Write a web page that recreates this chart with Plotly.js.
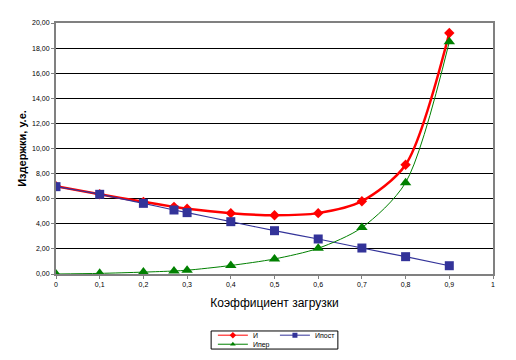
<!DOCTYPE html>
<html><head><meta charset="utf-8">
<script src="https://cdn.plot.ly/plotly-3.0.1.min.js"></script>
<style>html,body{margin:0;padding:0;background:#fff}#chart{width:516px;height:360px}</style>
</head><body><div id="chart"></div>
<script>
const xLoad = [0, 0.1, 0.2, 0.27, 0.3, 0.4, 0.5, 0.6, 0.7, 0.8, 0.9];
const costTotal = [7.0, 6.35, 5.75, 5.35, 5.2, 4.85, 4.68, 4.85, 5.8, 8.7, 19.2];
const costFixed = [6.96, 6.35, 5.63, 5.1, 4.89, 4.17, 3.45, 2.79, 2.07, 1.38, 0.66];
const costVar = [0.0, 0.05, 0.15, 0.24, 0.3, 0.68, 1.2, 2.05, 3.7, 7.28, 18.5];
const seriesNames = ['И', 'Ипост', 'Ипер'];
const yTicks = [0, 2, 4, 6, 8, 10, 12, 14, 16, 18, 20];
const xTicks = [0, 0.1, 0.2, 0.3, 0.4, 0.5, 0.6, 0.7, 0.8, 0.9, 1];

const font = 'Liberation Sans, Arial, sans-serif';
const colors = ['#ff0000', '#333399', '#008000'];
const symbols = ['diamond', 'square', 'triangle-up'];
const legendIds = ['legend', 'legend2', 'legend3'];
const traces = [
  {x: xLoad, y: costTotal, name: seriesNames[0], mode: 'lines+markers', showlegend: false,
   line: {color: colors[0], width: 2.5, shape: 'spline', smoothing: 0.8},
   marker: {symbol: symbols[0], size: 8, color: colors[0]}},
  {x: xLoad, y: costFixed, name: seriesNames[1], mode: 'lines+markers', showlegend: false,
   line: {color: colors[1], width: 1.2, shape: 'spline', smoothing: 0.8},
   marker: {symbol: symbols[1], size: 9, color: colors[1]}},
  {x: xLoad, y: costVar, name: seriesNames[2], mode: 'lines+markers', showlegend: false,
   line: {color: colors[2], width: 1, shape: 'spline', smoothing: 0.8},
   marker: {symbol: symbols[2], size: 10, color: colors[2]}}
];
// legend entries (small symbols like the original legend)
seriesNames.forEach((n, i) => {
  traces.push({x: [null], y: [null], name: n, mode: 'lines+markers', showlegend: true,
    legend: legendIds[i],
    line: {color: colors[i], width: 1}, marker: {symbol: symbols[i], size: 5, color: colors[i]}});
});
const legendBase = {orientation: 'h', xanchor: 'left', yanchor: 'top',
  font: {size: 7, family: font}, bgcolor: 'rgba(0,0,0,0)', borderwidth: 0, itemwidth: 30};
const layout = {
  width: 516, height: 360,
  margin: {l: 56, r: 23, t: 23, b: 86, autoexpand: false},
  paper_bgcolor: '#fff', plot_bgcolor: '#fff',
  separators: ', ',
  font: {family: font, color: '#000', size: 7},
  showlegend: true,
  xaxis: {
    range: [0, 1], tickvals: xTicks, ticktext: xTicks.map(v => String(v).replace('.', ',')),
    showgrid: false, zeroline: false,
    showline: true, linecolor: '#808080', linewidth: 2, mirror: true,
    ticks: 'outside', ticklen: 3, tickcolor: '#808080', tickwidth: 1,
    tickfont: {size: 7, family: font},
    title: {text: 'Коэффициент загрузки', font: {size: 12, family: font}, standoff: 11}
  },
  yaxis: {
    range: [0, 20], tickvals: yTicks, tickformat: '.2f',
    showgrid: true, gridcolor: '#000', gridwidth: 1, zeroline: false,
    showline: true, linecolor: '#808080', linewidth: 2, mirror: true,
    ticks: 'outside', ticklen: 3, tickcolor: '#808080', tickwidth: 1,
    tickfont: {size: 7, family: font},
    title: {text: '<b>Издержки, у.е.</b>', font: {size: 11, family: font}, standoff: 3}
  },
  legend: Object.assign({}, legendBase, {x: 0.359, y: -0.186}),
  legend2: Object.assign({}, legendBase, {x: 0.501, y: -0.186}),
  legend3: Object.assign({}, legendBase, {x: 0.359, y: -0.222}),
  shapes: [{type: 'rect', xref: 'paper', yref: 'paper', x0: 0.355, x1: 0.645, y0: -0.299, y1: -0.227,
    line: {color: '#000', width: 1}, fillcolor: 'rgba(0,0,0,0)'}]
};
Plotly.newPlot('chart', traces, layout, {displayModeBar: false, staticPlot: true});
</script></body></html>
